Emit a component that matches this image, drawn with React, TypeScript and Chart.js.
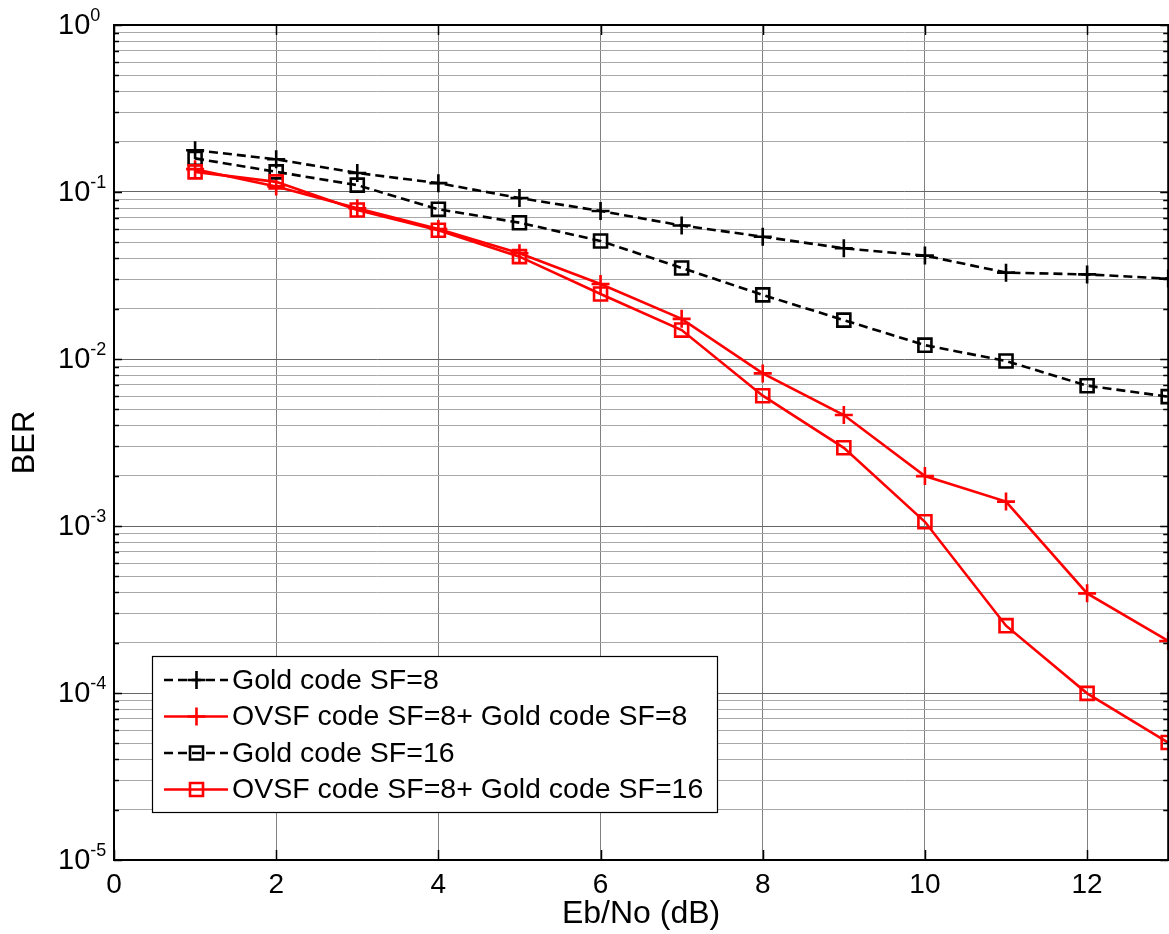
import React, { useEffect, useRef } from "react";
import { Chart, registerables } from "chart.js";

Chart.register(...registerables);

const FONT = "'Liberation Sans', Arial, Helvetica, sans-serif";

// Eb/No (dB)
const xValues = [1, 2, 3, 4, 5, 6, 7, 8, 9, 10, 11, 12, 13];

const goldSF8 = [0.178, 0.157, 0.130, 0.113, 0.092, 0.077, 0.063, 0.054, 0.046, 0.0416, 0.0329, 0.0321, 0.0303];
const ovsfGoldSF8 = [0.137, 0.108, 0.080, 0.060, 0.043, 0.0281, 0.0174, 0.0082, 0.00462, 0.00199, 0.0014, 0.000395, 0.000205];
const goldSF16 = [0.159, 0.132, 0.110, 0.0788, 0.0655, 0.0509, 0.0351, 0.0242, 0.0171, 0.0121, 0.00973, 0.00692, 0.00595];
const ovsfGoldSF16 = [0.132, 0.115, 0.078, 0.059, 0.041, 0.0245, 0.0149, 0.00603, 0.00294, 0.00106, 0.000253, 0.0000995, 0.0000505];

const seriesLabels = [
  "Gold code SF=8",
  "OVSF code SF=8+ Gold code SF=8",
  "Gold code SF=16",
  "OVSF code SF=8+ Gold code SF=16",
];

const xTickValues = [0, 2, 4, 6, 8, 10, 12];
const yDecades = [1e-5, 1e-4, 1e-3, 1e-2, 1e-1, 1];
const minorMultipliers = [1, 2, 3, 4, 5, 6, 7, 8, 9];

const yGridValues: { value: number; major: boolean }[] = [];
yDecades.forEach((d, i) => {
  if (i === yDecades.length - 1) {
    yGridValues.push({ value: d, major: true });
  } else {
    minorMultipliers.forEach((m) => yGridValues.push({ value: d * m, major: m === 1 }));
  }
});

const DASH = [9, 5];

type Style = { color: string; dashed: boolean; marker: "cross" | "square" };
const styles: Style[] = [
  { color: "#000000", dashed: true, marker: "cross" },
  { color: "#ff0000", dashed: false, marker: "cross" },
  { color: "#000000", dashed: true, marker: "square" },
  { color: "#ff0000", dashed: false, marker: "square" },
];
const seriesValues = [goldSF8, ovsfGoldSF8, goldSF16, ovsfGoldSF16];

function drawMarker(ctx: CanvasRenderingContext2D, kind: string, x: number, y: number, color: string) {
  ctx.save();
  ctx.setLineDash([]);
  ctx.strokeStyle = color;
  ctx.lineWidth = 2.6;
  ctx.beginPath();
  if (kind === "cross") {
    ctx.moveTo(x - 9, y);
    ctx.lineTo(x + 9, y);
    ctx.moveTo(x, y - 9);
    ctx.lineTo(x, y + 9);
  } else {
    ctx.rect(x - 6.5, y - 6.5, 13, 13);
  }
  ctx.stroke();
  ctx.restore();
}

const axesPlugin = {
  id: "matlabAxes",
  afterDraw(chart: any) {
    const ctx: CanvasRenderingContext2D = chart.ctx;
    const { left, right, top, bottom } = chart.chartArea;
    const xs = chart.scales.x;
    const ys = chart.scales.y;
    ctx.save();
    // inner ticks
    ctx.strokeStyle = "#000";
    ctx.lineWidth = 1.5;
    ctx.beginPath();
    yGridValues.forEach((t) => {
      const py = Math.round(ys.getPixelForValue(t.value)) + 0.5;
      const len = t.major ? 8 : 5;
      ctx.moveTo(left, py);
      ctx.lineTo(left + len, py);
      ctx.moveTo(right, py);
      ctx.lineTo(right - len, py);
    });
    xTickValues.forEach((v) => {
      const px = Math.round(xs.getPixelForValue(v)) + 0.5;
      ctx.moveTo(px, bottom);
      ctx.lineTo(px, bottom - 10);
      ctx.moveTo(px, top);
      ctx.lineTo(px, top + 10);
    });
    ctx.stroke();
    // box
    ctx.lineWidth = 2;
    ctx.strokeRect(left, top, right - left, bottom - top);
    // y tick labels with superscript exponents
    ctx.fillStyle = "#000";
    ctx.textAlign = "left";
    yDecades.forEach((d) => {
      const py = ys.getPixelForValue(d);
      const exp = String(Math.round(Math.log10(d)));
      ctx.font = `29px ${FONT}`;
      ctx.textBaseline = "middle";
      const bx = 58;
      ctx.fillText("10", bx, py + 1);
      const w = ctx.measureText("10").width;
      ctx.font = `18px ${FONT}`;
      ctx.textBaseline = "alphabetic";
      ctx.fillText(exp, bx + w, py - 4);
    });
    ctx.restore();
  },
};

const legendPlugin = {
  id: "matlabLegend",
  afterDraw(chart: any) {
    const ctx: CanvasRenderingContext2D = chart.ctx;
    const bx = 152;
    const by = 656;
    const bw = 565;
    const bh = 156;
    ctx.save();
    ctx.fillStyle = "#fff";
    ctx.fillRect(bx, by, bw, bh);
    ctx.strokeStyle = "#000";
    ctx.lineWidth = 1.2;
    ctx.strokeRect(bx + 0.5, by + 0.5, bw, bh);
    seriesLabels.forEach((label, i) => {
      const st = styles[i];
      const ry = 680 + i * 36.5;
      ctx.strokeStyle = st.color;
      ctx.lineWidth = 2.6;
      ctx.setLineDash(st.dashed ? DASH : []);
      ctx.beginPath();
      ctx.moveTo(164, ry);
      ctx.lineTo(228, ry);
      ctx.stroke();
      drawMarker(ctx, st.marker, 196.5, ry, st.color);
      ctx.setLineDash([]);
      ctx.fillStyle = "#000";
      ctx.font = `28.5px ${FONT}`;
      ctx.textAlign = "left";
      ctx.textBaseline = "middle";
      ctx.fillText(label, 232, ry + 1);
    });
    ctx.restore();
  },
};

export default function App() {
  const ref = useRef<HTMLCanvasElement>(null);
  useEffect(() => {
    const canvas = ref.current;
    if (!canvas) return;
    const datasets = seriesValues.map((vals, i) => {
      const st = styles[i];
      return {
        label: seriesLabels[i],
        data: xValues.map((x, j) => ({ x, y: vals[j] })),
        borderColor: st.color,
        backgroundColor: st.color,
        borderWidth: 2.6,
        borderDash: st.dashed ? DASH : [],
        pointStyle: st.marker === "cross" ? "cross" : "rect",
        pointRadius: st.marker === "cross" ? 9 : 9.2,
        pointBorderWidth: 2.6,
        pointBorderColor: st.color,
        pointBackgroundColor: "rgba(0,0,0,0)",
        tension: 0,
        fill: false,
        clip: false as any,
        order: 3 - i,
      };
    });
    const chart = new Chart(canvas, {
      type: "line",
      data: { datasets: datasets as any },
      options: {
        responsive: false,
        animation: false,
        devicePixelRatio: 1,
        layout: { padding: { top: 25, right: 9, left: 0, bottom: 0 } },
        plugins: { legend: { display: false }, tooltip: { enabled: false } },
        scales: {
          x: {
            type: "linear",
            min: 0,
            max: 13,
            afterBuildTicks: (s: any) => {
              s.ticks = xTickValues.map((v) => ({ value: v }));
            },
            afterFit: (s: any) => {
              s.height = 74;
            },
            grid: { color: "#808080", lineWidth: 1, drawTicks: false },
            border: { display: false },
            ticks: {
              font: { family: FONT, size: 28 },
              color: "#000",
              padding: 8,
              maxRotation: 0,
              autoSkip: false,
            },
            title: {
              display: true,
              text: "Eb/No (dB)",
              font: { family: FONT, size: 32 },
              color: "#000",
              padding: { top: 0, bottom: 1 },
            },
          },
          y: {
            type: "logarithmic",
            min: 1e-5,
            max: 1,
            afterBuildTicks: (s: any) => {
              s.ticks = yGridValues.map((t) => ({ value: t.value, major: t.major }));
            },
            afterFit: (s: any) => {
              s.width = 114;
            },
            grid: {
              color: (c: any) => (c.tick && c.tick.major ? "#666666" : "#a8a8a8"),
              lineWidth: 1,
              drawTicks: false,
            },
            border: { display: false },
            ticks: { display: false },
            title: {
              display: true,
              text: "BER",
              font: { family: FONT, size: 31 },
              color: "#000",
              padding: { top: 7, bottom: 0 },
            },
          },
        },
      },
      plugins: [axesPlugin, legendPlugin],
    });
    return () => chart.destroy();
  }, []);
  return (
    <div
      style={{
        position: "fixed",
        left: 0,
        top: 0,
        width: 1169,
        height: 934,
        overflow: "hidden",
        background: "#fff",
      }}
    >
      <canvas ref={ref} width={1180} height={934} style={{ display: "block", width: 1180, height: 934 }} />
    </div>
  );
}
